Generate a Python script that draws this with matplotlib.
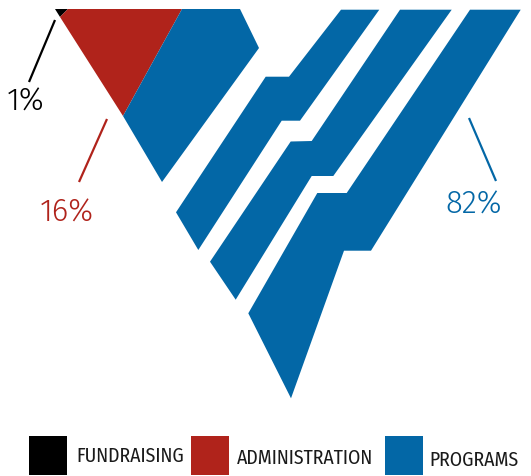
import matplotlib
matplotlib.use("Agg")
import matplotlib.pyplot as plt
from matplotlib.patches import Polygon, Rectangle

categories = ["FUNDRAISING", "ADMINISTRATION", "PROGRAMS"]
values = [1, 16, 82]
colors = ["#000000", "#B0231B", "#0367A6"]

# label anchor positions (pixel space) & leader lines: style/layout
label_pos = [(26, 102), (66.7, 212.5), (473.7, 205)]
leaders = [((55, 21), (29, 83)), ((107, 120), (79, 183)), ((469, 119), (496, 182))]

# logo geometry (pixel space)
black_poly = [(55, 10), (68, 10), (60, 18)]
red_poly = [(60, 18), (68, 10), (182, 10), (123, 117)]
blue_polys = [
    [(182, 10), (240, 10), (259, 49), (162, 183), (123, 117)],
    [(341, 10.7), (379.3, 10.7), (300, 121.7), (281.7, 121.7), (198.3, 251),
     (176, 213.3), (265.7, 77.7), (289, 77.7)],
    [(400, 10.7), (451.7, 10.7), (333.3, 177), (311.7, 177), (235.7, 300.7),
     (210, 262.7), (290.7, 142.5), (311.7, 142)],
    [(470, 10.7), (520.7, 10.7), (371, 251.7), (344, 251.7), (291, 399.3),
     (248.3, 314.3), (317.3, 194), (346.7, 194)],
]

legend_font = "Fira Sans Condensed"
pct_font = "Fira Sans"

fig = plt.figure(figsize=(5.31, 4.77), dpi=100)
ax = fig.add_axes([0, 0, 1, 1])
ax.set_xlim(0, 531)
ax.set_ylim(477, 0)
ax.axis("off")

ax.add_patch(Polygon(black_poly, closed=True, fc=colors[0], ec="none"))
ax.add_patch(Polygon(red_poly, closed=True, fc=colors[1], ec="none"))
for p in blue_polys:
    ax.add_patch(Polygon(p, closed=True, fc=colors[2], ec="none"))

for v, c, (x, y), ((x0, y0), (x1, y1)) in zip(values, colors, label_pos, leaders):
    ax.plot([x0, x1], [y0, y1], color=c, lw=1.6, solid_capstyle="butt")
    ax.text(x, y, f"{v}%", color=c, fontsize=22.5, family=pct_font,
            weight=350, ha="center", va="center")

# legend
sq_x = [29, 191, 385]
txt_x = [76, 237, 429.5]
txt_y = [456, 458, 460]
for cat, c, sx, tx, ty in zip(categories, colors, sq_x, txt_x, txt_y):
    ax.add_patch(Rectangle((sx, 437), 38, 39, fc=c, ec="none"))
    ax.text(tx, ty, cat, color="#1a1a1a", fontsize=14.2, family=legend_font,
            ha="left", va="center")

fig.savefig("out.png", dpi=100)
